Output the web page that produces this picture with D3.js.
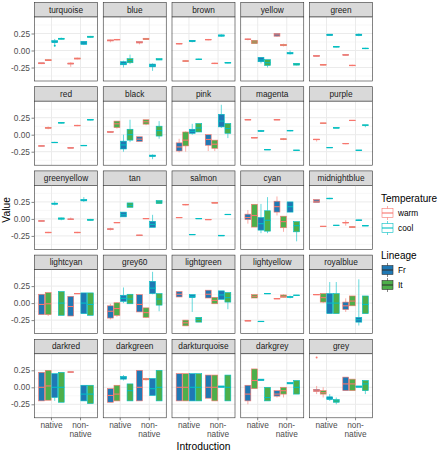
<!DOCTYPE html>
<html>
<head>
<meta charset="utf-8">
<script src="https://cdn.jsdelivr.net/npm/d3@7/dist/d3.min.js"></script>
<style>
  body { margin: 0; background: #fff; }
  text { font-family: "Liberation Sans", Arial, Helvetica, sans-serif; }
</style>
</head>
<body>
<svg width="442" height="456"></svg>
<script>
const panels = [
  "turquoise", "blue", "brown", "yellow", "green",
  "red", "black", "pink", "magenta", "purple",
  "greenyellow", "tan", "salmon", "cyan", "midnightblue",
  "lightcyan", "grey60", "lightgreen", "lightyellow", "royalblue",
  "darkred", "darkgreen", "darkturquoise", "darkgrey", "grey"
];
const introductions = ["native", "non-native"];
const temperatures = ["warm", "cool"];
const lineages = ["Fr", "It"];
const groupOrder = [["warm", "Fr"], ["warm", "It"], ["cool", "Fr"], ["cool", "It"]];
const yTicks = [-0.25, 0, 0.25];
const yMinorTicks = [-0.375, -0.125, 0.125, 0.375];

// per panel: native (warm Fr, warm It, cool Fr, cool It), then non-native in same order
// each box: [lower whisker, q1, median, q3, upper whisker]
const boxStats = [
  [[-0.2,-0.195,-0.19,-0.18,-0.18],[-0.15,-0.15,-0.145,-0.135,-0.13],[0.07,0.115,0.13,0.145,0.17],[0.16,0.165,0.175,0.18,0.19],
   [-0.24,-0.2,-0.19,-0.185,-0.175],[-0.13,-0.125,-0.12,-0.11,-0.105],[0.08,0.09,0.11,0.135,0.14],[0.19,0.195,0.2,0.21,0.215]],
  [[0.12,0.14,0.15,0.155,0.16],[0.15,0.155,0.16,0.165,0.17],[-0.25,-0.21,-0.19,-0.165,-0.15],[-0.2,-0.18,-0.15,-0.12,-0.06],
   [0.09,0.11,0.12,0.13,0.13],[0.16,0.16,0.17,0.18,0.18],[-0.3,-0.24,-0.22,-0.2,-0.19],[-0.14,-0.14,-0.13,-0.12,-0.12]],
  [[0.09,0.095,0.1,0.105,0.11],[-0.165,-0.16,-0.155,-0.15,-0.145],[0.12,0.13,0.14,0.15,0.15],[-0.14,-0.135,-0.13,-0.125,-0.12],
   [0.15,0.155,0.16,0.165,0.17],[-0.2,-0.195,-0.19,-0.185,-0.18],[0.2,0.21,0.22,0.23,0.24],[-0.19,-0.185,-0.18,-0.175,-0.17]],
  [[0.15,0.16,0.165,0.17,0.175],[0.1,0.1,0.125,0.15,0.15],[-0.19,-0.165,-0.14,-0.1,-0.1],[-0.25,-0.22,-0.18,-0.135,-0.135],
   [0.2,0.21,0.23,0.25,0.25],[0.06,0.07,0.08,0.09,0.1],[-0.06,-0.05,-0.04,-0.03,0.0],[-0.22,-0.215,-0.2,-0.19,-0.185]],
  [[-0.09,-0.085,-0.08,-0.075,-0.07],[-0.22,-0.215,-0.21,-0.205,-0.2],[0.22,0.22,0.23,0.24,0.24],[0.045,0.05,0.055,0.06,0.065],
   [-0.075,-0.07,-0.065,-0.06,-0.055],[-0.23,-0.225,-0.22,-0.215,-0.21],[0.21,0.22,0.23,0.24,0.25],[0.02,0.025,0.03,0.035,0.04]],

  [[-0.17,-0.168,-0.165,-0.162,-0.16],[0.08,0.095,0.1,0.105,0.12],[-0.12,-0.118,-0.115,-0.11,-0.105],[0.165,0.17,0.175,0.18,0.185],
   [-0.2,-0.198,-0.195,-0.19,-0.19],[0.125,0.13,0.135,0.14,0.145],[-0.165,-0.163,-0.16,-0.155,-0.15],[0.21,0.215,0.22,0.225,0.23]],
  [[0.03,0.035,0.04,0.045,0.05],[0.09,0.105,0.16,0.2,0.2],[-0.25,-0.21,-0.15,-0.095,0.0],[-0.11,-0.08,0.0,0.08,0.22],
   [-0.1,-0.1,-0.065,-0.03,-0.03],[0.14,0.155,0.19,0.22,0.22],[-0.36,-0.32,-0.31,-0.3,-0.29],[-0.06,-0.02,0.06,0.125,0.2]],
  [[-0.26,-0.24,-0.18,-0.12,-0.06],[-0.25,-0.165,-0.08,0.04,0.05],[0.0,0.02,0.05,0.08,0.16],[0.04,0.04,0.1,0.165,0.165],
   [-0.24,-0.155,-0.07,0.0,0.0],[-0.24,-0.2,-0.14,-0.08,-0.08],[0.1,0.115,0.2,0.3,0.44],[-0.05,0.02,0.09,0.165,0.165]],
  [[0.215,0.217,0.22,0.223,0.225],[-0.05,-0.048,-0.045,-0.042,-0.04],[0.04,0.05,0.055,0.06,0.07],[-0.225,-0.223,-0.22,-0.217,-0.215],
   [0.215,0.217,0.22,0.223,0.225],[-0.08,-0.07,-0.065,-0.06,-0.05],[0.05,0.055,0.06,0.065,0.07],[-0.235,-0.233,-0.23,-0.225,-0.225]],
  [[-0.1,-0.075,-0.07,-0.065,-0.065],[0.165,0.167,0.17,0.173,0.175],[-0.195,-0.193,-0.19,-0.185,-0.185],[0.095,0.097,0.1,0.103,0.105],
   [-0.14,-0.135,-0.13,-0.127,-0.125],[0.205,0.207,0.21,0.213,0.215],[-0.235,-0.233,-0.23,-0.225,-0.225],[0.11,0.135,0.14,0.145,0.145]],

  [[-0.035,-0.033,-0.03,-0.027,-0.025],[-0.21,-0.205,-0.2,-0.195,-0.19],[0.2,0.215,0.225,0.232,0.26],[-0.02,-0.005,0.005,0.015,0.02],
   [-0.01,-0.008,-0.005,0.0,0.02],[-0.21,-0.205,-0.2,-0.195,-0.19],[0.25,0.265,0.275,0.285,0.32],[-0.025,-0.02,-0.015,-0.005,0.0]],
  [[-0.17,-0.155,-0.15,-0.145,-0.13],[-0.06,-0.058,-0.055,-0.05,-0.05],[0.03,0.03,0.06,0.1,0.1],[0.17,0.17,0.2,0.235,0.235],
   [-0.245,-0.243,-0.24,-0.237,-0.235],[0.0,0.002,0.005,0.008,0.01],[-0.125,-0.125,-0.08,-0.035,0.06],[0.225,0.225,0.25,0.27,0.27]],
  [[0.015,0.017,0.02,0.023,0.025],[0.2,0.205,0.21,0.215,0.22],[-0.235,-0.233,-0.23,-0.227,-0.225],[0.0,0.002,0.005,0.008,0.01],
   [-0.015,-0.013,-0.01,-0.007,-0.005],[0.23,0.232,0.235,0.24,0.24],[-0.25,-0.25,-0.245,-0.24,-0.24],[0.06,0.062,0.065,0.068,0.07]],
  [[-0.07,-0.01,0.02,0.07,0.13],[-0.12,-0.12,0.05,0.215,0.215],[-0.21,-0.165,-0.07,0.02,0.22],[-0.21,-0.18,-0.02,0.12,0.32],
   [0.05,0.1,0.18,0.26,0.33],[-0.19,-0.13,-0.04,0.04,0.04],[0.1,0.1,0.18,0.25,0.25],[-0.33,-0.19,-0.1,-0.04,-0.04]],
  [[0.24,0.24,0.26,0.285,0.285],[-0.115,-0.113,-0.11,-0.107,-0.105],[0.29,0.295,0.3,0.305,0.31],[-0.1,-0.098,-0.095,-0.092,-0.09],
   [-0.1,-0.06,-0.055,-0.05,-0.02],[-0.13,-0.125,-0.12,-0.115,-0.11],[-0.03,-0.025,-0.02,-0.015,-0.01],[-0.105,-0.103,-0.1,-0.097,-0.095]],

  [[-0.17,-0.17,-0.02,0.13,0.13],[-0.19,-0.17,-0.01,0.155,0.155],null,[-0.18,-0.18,0.0,0.17,0.17],
   [-0.19,-0.19,-0.05,0.1,0.1],[0.135,0.137,0.14,0.143,0.145],[-0.155,-0.155,0.0,0.15,0.15],[-0.18,-0.18,-0.02,0.15,0.15]],
  [[-0.24,-0.22,-0.12,-0.04,-0.01],[-0.2,-0.18,-0.08,0.005,0.01],[0.0,0.025,0.07,0.115,0.23],[-0.01,-0.01,0.06,0.13,0.13],
   [-0.13,-0.13,-0.02,0.125,0.125],[-0.22,-0.21,-0.14,-0.07,-0.07],[0.13,0.14,0.22,0.32,0.46],[-0.12,-0.03,0.06,0.14,0.14]],
  [[0.09,0.09,0.13,0.17,0.17],[-0.335,-0.335,-0.29,-0.25,-0.25],[-0.13,0.08,0.1,0.125,0.125],[-0.28,-0.28,-0.24,-0.21,-0.21],
   [0.075,0.075,0.13,0.19,0.19],[-0.01,-0.01,0.04,0.085,0.085],[0.055,0.055,0.12,0.18,0.18],[-0.09,0.015,0.08,0.155,0.155]],
  [[-0.265,-0.263,-0.26,-0.257,-0.255],[0.075,0.075,0.1,0.125,0.125],[-0.275,-0.273,-0.27,-0.267,-0.265],[0.135,0.137,0.14,0.143,0.145],
   [0.06,0.062,0.065,0.068,0.07],[0.08,0.085,0.1,0.12,0.13],[0.07,0.085,0.09,0.095,0.11],[0.11,0.112,0.115,0.118,0.12]],
  [[0.12,0.122,0.125,0.128,0.13],[0.0,0.015,0.08,0.14,0.14],[-0.155,-0.155,0.0,0.14,0.31],[-0.155,-0.155,0.0,0.14,0.31],
   [-0.13,-0.095,-0.04,0.015,0.07],[-0.04,-0.04,0.03,0.105,0.105],[-0.33,-0.28,-0.245,-0.21,0.35],[-0.155,-0.155,-0.02,0.105,0.105]],

  [[-0.2,-0.2,0.0,0.22,0.22],[-0.19,-0.19,0.02,0.25,0.25],[-0.2,-0.15,0.0,0.2,0.2],[-0.22,-0.22,0.0,0.22,0.22],
   [0.22,0.222,0.225,0.228,0.23],null,[-0.2,-0.2,-0.1,0.03,0.03],[-0.24,-0.24,-0.1,0.03,0.03]],
  [[-0.22,-0.22,-0.12,-0.02,-0.02],[-0.2,-0.2,-0.1,0.03,0.03],[0.1,0.12,0.14,0.16,0.18],[-0.2,-0.2,-0.05,0.05,0.05],
   [-0.2,-0.2,0.0,0.25,0.25],[0.1,0.11,0.12,0.13,0.14],[-0.12,-0.12,-0.02,0.13,0.13],[-0.2,-0.2,0.0,0.25,0.25]],
  [[-0.2,-0.2,0.0,0.2,0.2],[-0.2,-0.2,0.0,0.2,0.2],[-0.2,-0.2,0.0,0.2,0.2],[-0.2,-0.2,0.0,0.2,0.2],
   [-0.16,-0.16,0.0,0.18,0.18],[-0.2,-0.2,0.0,0.18,0.18],[0.0,0.0,0.01,0.02,0.02],[-0.2,-0.2,0.0,0.18,0.18]],
  [[-0.25,-0.2,-0.1,0.03,0.03],[-0.02,-0.02,0.1,0.27,0.27],[0.1,0.1,0.11,0.12,0.12],[-0.2,-0.2,-0.15,0.0,0.0],
   [-0.15,-0.13,-0.1,-0.05,-0.05],[-0.15,-0.1,-0.05,0.0,0.0],[0.05,0.05,0.06,0.07,0.07],[-0.1,-0.1,0.0,0.1,0.1]],
  [[-0.1,-0.06,-0.05,-0.03,0.02],[-0.15,-0.1,-0.08,-0.05,0.0],[-0.2,-0.18,-0.16,-0.14,-0.1],[-0.25,-0.22,-0.2,-0.18,-0.15],
   [-0.05,-0.05,0.05,0.15,0.15],[-0.05,-0.05,0.05,0.12,0.12],[0.0,0.0,0.01,0.02,0.02],[-0.1,-0.05,0.05,0.1,0.1]]
];
// outlier points: [panel, box slot, value]
const outliers = [["turquoise", 2, 0.07], ["grey", 0, 0.44]];

const svg = d3.select("svg");
const tempColor = d3.scaleOrdinal().domain(temperatures).range(["#F8766D", "#00BFC4"]);
const lineColor = d3.scaleOrdinal().domain(lineages).range(["#1F78B4", "#4DAF4A"]);

const panelLeft = 34, colStep = 68.75, panelW = 64;
const rowTop = 2, rowStep = 84.2, stripH = 15, panelH = 64;

const x = d3.scaleLinear().domain([0.4, 2.6]).range([0, panelW]);
const dodge = d3.scaleBand().domain(d3.range(4)).range([-0.45, 0.45]).paddingInner(0.1).paddingOuter(0.05);
const y = d3.scaleLinear().domain([-0.4485, 0.4926]).range([panelH, 0]);
const fmt = d3.format(".2f");

panels.forEach(function (name, i) {
  const col = i % 5, row = Math.floor(i / 5);
  const g = svg.append("g")
    .attr("transform", "translate(" + (panelLeft + col * colStep) + "," + (rowTop + row * rowStep) + ")");

  g.append("rect")
    .attr("x", 0.5).attr("y", 0.5)
    .attr("width", panelW - 1).attr("height", stripH - 0.5)
    .attr("fill", "#d9d9d9").attr("stroke", "#333").attr("stroke-width", 0.6);
  g.append("text")
    .attr("x", panelW / 2).attr("y", stripH / 2 + 3)
    .attr("text-anchor", "middle")
    .attr("font-size", 8.3).attr("fill", "#1a1a1a")
    .text(name);

  const p = g.append("g").attr("transform", "translate(0," + stripH + ")");
  p.append("rect").attr("width", panelW).attr("height", panelH).attr("fill", "#fff");

  p.selectAll(".minor").data(yMinorTicks).enter().append("line")
    .attr("x1", 0).attr("x2", panelW)
    .attr("y1", d => y(d)).attr("y2", d => y(d))
    .attr("stroke", "#f2f2f2").attr("stroke-width", 0.6);
  p.selectAll(".major").data(yTicks).enter().append("line")
    .attr("x1", 0).attr("x2", panelW)
    .attr("y1", d => y(d)).attr("y2", d => y(d))
    .attr("stroke", "#ebebeb").attr("stroke-width", 1);
  p.selectAll(".vmajor").data([1, 2]).enter().append("line")
    .attr("x1", d => x(d)).attr("x2", d => x(d))
    .attr("y1", 0).attr("y2", panelH)
    .attr("stroke", "#ebebeb").attr("stroke-width", 1);

  const boxes = boxStats[i].map(function (s, k) {
    return { s: s, intro: Math.floor(k / 4) + 1, slot: k % 4 };
  }).filter(d => d.s);

  const bw = x(dodge.bandwidth()) - x(0);
  boxes.forEach(function (d) {
    const cx = x(d.intro + dodge(d.slot) + dodge.bandwidth() / 2);
    const temp = groupOrder[d.slot][0], lin = groupOrder[d.slot][1];
    const col = tempColor(temp);
    const bg = p.append("g");
    bg.append("line").attr("x1", cx).attr("x2", cx)
      .attr("y1", y(d.s[0])).attr("y2", y(d.s[1]))
      .attr("stroke", col).attr("stroke-width", 0.6);
    bg.append("line").attr("x1", cx).attr("x2", cx)
      .attr("y1", y(d.s[3])).attr("y2", y(d.s[4]))
      .attr("stroke", col).attr("stroke-width", 0.6);
    bg.append("rect")
      .attr("x", cx - bw / 2).attr("width", bw)
      .attr("y", y(d.s[3])).attr("height", Math.max(y(d.s[1]) - y(d.s[3]), 0.5))
      .attr("fill", lineColor(lin)).attr("stroke", col).attr("stroke-width", 0.6);
    bg.append("line").attr("x1", cx - bw / 2).attr("x2", cx + bw / 2)
      .attr("y1", y(d.s[2])).attr("y2", y(d.s[2]))
      .attr("stroke", col).attr("stroke-width", 1.1);
  });

  p.selectAll(".out").data(outliers.filter(o => o[0] === name)).enter().append("circle")
    .attr("cx", o => x(Math.floor(o[1] / 4) + 1 + dodge(o[1] % 4) + dodge.bandwidth() / 2))
    .attr("cy", o => y(o[2]))
    .attr("r", 1)
    .attr("fill", o => tempColor(groupOrder[o[1] % 4][0]));

  p.append("rect").attr("x", 0.5).attr("y", 0).attr("width", panelW - 1).attr("height", panelH)
    .attr("fill", "none").attr("stroke", "#333").attr("stroke-width", 0.6);

  if (col === 0) {
    const ax = p.append("g").call(d3.axisLeft(y).tickValues(yTicks).tickFormat(fmt).tickSize(2.5).tickPadding(1.5));
    ax.select(".domain").remove();
    ax.selectAll("line").attr("stroke", "#333").attr("stroke-width", 0.6);
    ax.selectAll("text").attr("font-size", 8.3).attr("fill", "#4d4d4d").attr("font-family", null)
      .text(d => (d < 0 ? "-" : "") + fmt(Math.abs(d)));
  }
  if (row === 4) {
    const ax = p.append("g").attr("transform", "translate(0," + panelH + ")");
    introductions.forEach(function (lab, j) {
      ax.append("line").attr("x1", x(j + 1)).attr("x2", x(j + 1)).attr("y1", 0).attr("y2", 2.5)
        .attr("stroke", "#333").attr("stroke-width", 0.6);
      const t = ax.append("text").attr("text-anchor", "middle").attr("font-size", 8.3).attr("fill", "#4d4d4d");
      const parts = lab === "non-native" ? ["non-", "native"] : [lab];
      parts.forEach(function (pt, m) {
        t.append("tspan").attr("x", x(j + 1)).attr("y", 10 + m * 9).text(pt);
      });
    });
  }
});

svg.append("text")
  .attr("x", panelLeft + (4 * colStep + panelW) / 2).attr("y", 450)
  .attr("text-anchor", "middle").attr("font-size", 10.3).attr("fill", "#000")
  .text("Introduction");
svg.append("text")
  .attr("transform", "translate(10," + (rowTop + (4 * rowStep + stripH + panelH) / 2) + ") rotate(-90)")
  .attr("text-anchor", "middle").attr("font-size", 10.3).attr("fill", "#000")
  .text("Value");

// legends
const lg = svg.append("g").attr("transform", "translate(381,0)");
function legendKey(g, cy, fill, stroke) {
  g.append("line").attr("x1", 6.5).attr("x2", 6.5).attr("y1", cy - 7).attr("y2", cy + 7)
    .attr("stroke", stroke).attr("stroke-width", 0.6);
  g.append("rect").attr("x", 1).attr("y", cy - 4.5).attr("width", 11).attr("height", 9)
    .attr("fill", fill).attr("stroke", stroke).attr("stroke-width", 0.6);
  g.append("line").attr("x1", 1).attr("x2", 12).attr("y1", cy).attr("y2", cy)
    .attr("stroke", stroke).attr("stroke-width", 1.1);
}
lg.append("text").attr("x", 0).attr("y", 202).attr("font-size", 10).text("Temperature");
temperatures.forEach(function (t, i) {
  legendKey(lg, 213 + i * 15, "#fff", tempColor(t));
  lg.append("text").attr("x", 17).attr("y", 216 + i * 15).attr("font-size", 8.3).attr("fill", "#000").text(t);
});
lg.append("text").attr("x", 0).attr("y", 259).attr("font-size", 10).text("Lineage");
lineages.forEach(function (l, i) {
  legendKey(lg, 270 + i * 15, lineColor(l), "#333");
  lg.append("text").attr("x", 17).attr("y", 273 + i * 15).attr("font-size", 8.3).attr("fill", "#000").text(l);
});
</script>
</body>
</html>
